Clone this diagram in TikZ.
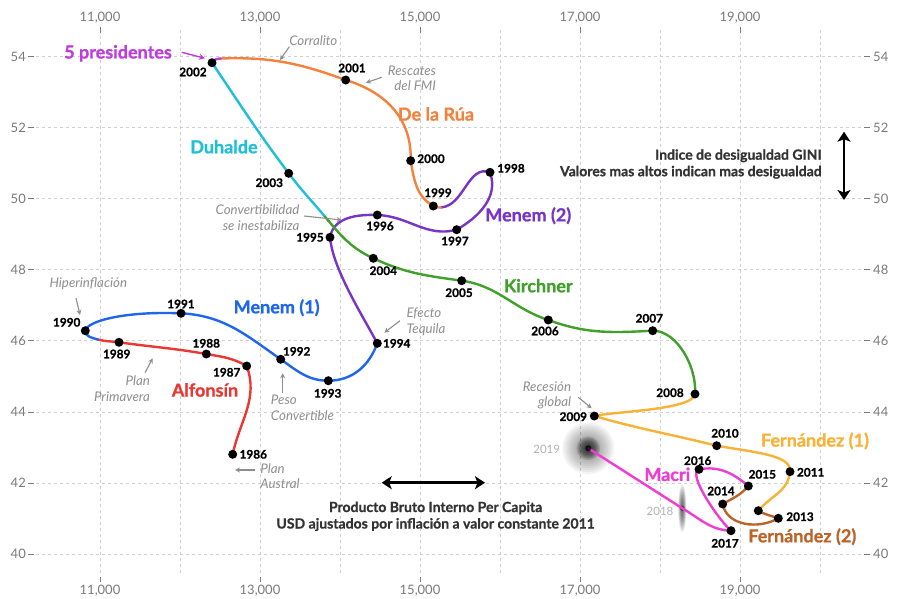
\documentclass[tikz,border=0pt]{standalone}
\usepackage{fontspec}
\setmainfont{Lato}[BoldFeatures={FakeBold=0.8}]
\usetikzlibrary{arrows.meta}
\definecolor{cAlf}{HTML}{EB3732}
\definecolor{cMenA}{HTML}{1F66EE}
\definecolor{cMenB}{HTML}{7634C8}
\definecolor{cRua}{HTML}{F5823C}
\definecolor{cFive}{HTML}{C03CDC}
\definecolor{cDuh}{HTML}{1EBFD8}
\definecolor{cKir}{HTML}{3FA02A}
\definecolor{cFerA}{HTML}{F8B236}
\definecolor{cFerB}{HTML}{BC6428}
\definecolor{cMac}{HTML}{F03CD2}
\definecolor{gridgray}{HTML}{CFCFCF}
\definecolor{axgray}{HTML}{7A7A7A}
\definecolor{annogray}{HTML}{8E8E8E}
\definecolor{capgray}{HTML}{333333}
\begin{document}
\begin{tikzpicture}[x=1pt,y=1pt,
  gridln/.style={draw=gridgray, line width=0.9pt, dash pattern=on 3pt off 3pt},
  tickln/.style={draw=axgray, line width=1pt},
  axlab/.style={font=\fontsize{13}{14}\selectfont, text=axgray, inner sep=0pt},
  yr/.style={font=\fontsize{11.8}{13}\selectfont\bfseries, text=black, inner sep=0pt},
  yrfaint/.style={font=\fontsize{11.5}{13}\selectfont, text=black!30, inner sep=0pt},
  pres/.style={font=\fontsize{18}{20}\selectfont\bfseries, inner sep=0pt},
  anno/.style={font=\fontsize{13.3}{15.5}\selectfont\itshape, text=annogray, inner sep=0pt},
  captxt/.style={font=\fontsize{14}{16.5}\selectfont\bfseries, text=capgray, inner sep=0pt},
  annarrow/.style={draw=annogray, line width=1.1pt, -{Stealth[length=5pt,width=5pt]}},
  bigarrow/.style={draw=black, line width=2.6pt, {Stealth[length=10pt,width=13pt,inset=2.5pt]}-{Stealth[length=10pt,width=13pt,inset=2.5pt]}},
  curve/.style={line width=2.4pt, line cap=round},
  dot/.style={circle, fill=black, inner sep=0pt, minimum size=9pt}
]
\useasboundingbox (0,0) rectangle (897,-598);
\fill[white] (0,0) rectangle (897,-598);

% grid
\foreach \x in {100,180,...,820} \draw[gridln] (\x,-30) -- (\x,-575);
\foreach \y in {56.5,127.6,198.7,269.8,340.9,412,483.1,554.2} \draw[gridln] (36,-\y) -- (864,-\y);

% x axis ticks and labels
\foreach \x/\t in {100/{11,000},260/{13,000},420/{15,000},580/{17,000},740/{19,000}}{
  \draw[tickln] (\x,-27) -- (\x,-33);
  \draw[tickln] (\x,-577) -- (\x,-582);
  \node[axlab] (xt\x) at (\x,-18) {\t};
  \node[axlab] (xb\x) at (\x,-591) {\t};
}
% y axis ticks and labels
\foreach \y/\v in {56.5/54,127.6/52,198.7/50,269.8/48,340.9/46,412/44,483.1/42,554.2/40}{
  \draw[tickln] (28,-\y) -- (34,-\y);
  \draw[tickln] (864,-\y) -- (870,-\y);
  \node[axlab, anchor=east] (yl\v) at (26,-\y) {\v};
  \node[axlab, anchor=west] (yr\v) at (873,-\y) {\v};
}

% data points
\coordinate (p1986) at (232.7,-454.3);
\coordinate (p1987) at (246.7,-366);
\coordinate (p1988) at (206.3,-354);
\coordinate (p1989) at (119,-342.3);
\coordinate (p1990) at (85.3,-330.7);
\coordinate (p1991) at (181,-313.3);
\coordinate (p1992) at (280.7,-359.3);
\coordinate (p1993) at (328.3,-380.7);
\coordinate (p1994) at (377.3,-343.3);
\coordinate (p1995) at (330,-237.3);
\coordinate (p1996) at (377.3,-215);
\coordinate (p1997) at (456.7,-229.7);
\coordinate (p1998) at (490,-172.3);
\coordinate (p1999) at (433.3,-206);
\coordinate (p2000) at (410.7,-160.7);
\coordinate (p2001) at (345.7,-80);
\coordinate (p2002) at (212,-62.7);
\coordinate (p2003) at (288.7,-173.3);
\coordinate (p2004) at (373.3,-258.3);
\coordinate (p2005) at (461.7,-280.7);
\coordinate (p2006) at (548.3,-320);
\coordinate (p2007) at (652.7,-330.7);
\coordinate (p2008) at (695,-394);
\coordinate (p2009) at (594.3,-416);
\coordinate (p2010) at (716.7,-445.7);
\coordinate (p2011) at (790,-471.7);
\coordinate (p2012) at (758.3,-510.7);
\coordinate (p2013) at (778.3,-518.3);
\coordinate (p2014) at (722.7,-504);
\coordinate (p2015) at (748.3,-486);
\coordinate (p2016) at (699,-469.3);
\coordinate (p2017) at (731,-530.7);
\coordinate (p2018) at (682.3,-508.3);
\coordinate (p2019) at (588.3,-448.3);
\coordinate (b1) at (98,-339.5);
\coordinate (b4) at (441,-207.5);
\coordinate (b5) at (221,-58.5);
\coordinate (b6) at (325,-216.7);

% blurred points
\foreach \r in {8,10,...,26} \fill[black,opacity=0.045] (p2019) circle (\r pt);
\foreach \r in {2,3,...,12} \fill[black,opacity=0.09] (p2019) circle (\r pt);
\foreach \r in {4,6,...,24} \fill[black,opacity=0.07] (p2018) ellipse [x radius={\r*0.17pt}, y radius={\r*1pt}];
\fill[black,opacity=0.5] (p2018) circle (2.5pt);

% curves
\draw[curve, cAlf] (p1986) to[out=78,in=-70] (p1987) to[out=150,in=-10] (p1988)
  to[out=170,in=-8] (p1989) to[out=172,in=-15] (b1);
\draw[curve, cMenA] (b1) to[out=165,in=-90] (p1990) .. controls (87,-321) and (125,-311) .. (p1991)
  to[out=-3,in=145] (p1992) to[out=-35,in=180] (p1993) to[out=0,in=-110] (p1994);
\draw[curve, cMenB] (p1994) to[out=118,in=-85,looseness=0.7] (p1995) to[out=80,in=178] (p1996)
  to[out=-2,in=-165] (p1997) to[out=30,in=-70] (p1998) to[out=160,in=5] (b4);
\draw[curve, cRua] (b4) to[out=185,in=-30] (p1999) to[out=150,in=-80] (p2000)
  .. controls (412,-118) and (385,-92) .. (p2001) to[out=160,in=2] (b5);
\draw[curve, cFive] (b5) to[out=182,in=60] (p2002);
\draw[curve, cDuh] (p2002) to[out=-56,in=127] (p2003) to[out=-53,in=130] (b6);
\draw[curve, cKir] (b6) to[out=-50,in=155] (p2004) to[out=-25,in=172] (p2005)
  to[out=-8,in=162] (p2006) to[out=-20,in=-177] (p2007) to[out=0,in=85,looseness=0.85] (p2008);
\draw[curve, cFerA] (p2008) to[out=-95,in=15,looseness=0.4] (p2009) to[out=-16,in=166] (p2010)
  .. controls (755,-452.5) and (792,-455) .. (p2011) to[out=-95,in=50] (p2012);
\draw[curve, cFerB] (p2012) to[out=-30,in=160] (p2013) to[out=-150,in=-80] (p2014)
  to[out=30,in=-130] (p2015);
\draw[curve, cMac] (p2015) to[out=140,in=10] (p2016) to[out=-160,in=140,looseness=0.5] (p2017)
  to[out=178,in=-30] (p2018) -- (p2019);
\fill[black,opacity=0.75] (p2019) circle (3pt);

% dots
\foreach \yy in {1986,1987,1988,1989,1990,1991,1992,1993,1994,1995,1996,1997,1998,1999,2000,2001,2002,2003,2004,2005,2006,2007,2008,2009,2010,2011,2012,2013,2014,2015,2016,2017}
  \node[dot] (d\yy) at (p\yy) {};

% year labels
\node[yr] (l1986) at (253.3,-454.3) {1986};
\node[yr] (l1987) at (226.7,-372.3) {1987};
\node[yr] (l1988) at (206.3,-343.3) {1988};
\node[yr] (l1989) at (116.7,-354) {1989};
\node[yr] (l1990) at (66.7,-322.3) {1990};
\node[yr] (l1991) at (181,-304) {1991};
\node[yr] (l1992) at (296.7,-351.3) {1992};
\node[yr] (l1993) at (327.7,-393.3) {1993};
\node[yr] (l1994) at (396.7,-343.3) {1994};
\node[yr] (l1995) at (310,-237.3) {1995};
\node[yr] (l1996) at (380,-226) {1996};
\node[yr] (l1997) at (455,-241) {1997};
\node[yr] (l1998) at (511,-168.3) {1998};
\node[yr] (l1999) at (438,-192.7) {1999};
\node[yr] (l2000) at (431,-158.7) {2000};
\node[yr] (l2001) at (352,-68) {2001};
\node[yr] (l2002) at (193,-72) {2002};
\node[yr] (l2003) at (269.3,-182.7) {2003};
\node[yr] (l2004) at (383.3,-270.7) {2004};
\node[yr] (l2005) at (459,-292.7) {2005};
\node[yr] (l2006) at (545,-331) {2006};
\node[yr] (l2007) at (649.3,-318.3) {2007};
\node[yr] (l2008) at (670,-392.7) {2008};
\node[yr] (l2009) at (573.3,-416.7) {2009};
\node[yr] (l2010) at (725,-433.3) {2010};
\node[yr] (l2011) at (810.7,-472.3) {2011};
\node[yr] (l2013) at (800,-516.7) {2013};
\node[yr] (l2014) at (721,-491) {2014};
\node[yr] (l2015) at (762.3,-474.3) {2015};
\node[yr] (l2016) at (697.7,-460.7) {2016};
\node[yr] (l2017) at (725,-543.3) {2017};
\node[yrfaint] (l2018) at (660,-511) {2018};
\node[yrfaint] (l2019) at (546.7,-449.3) {2019};

% president names
\node[pres, text=cFive] (nFive) at (118,-53.3) {5 presidentes};
\node[pres, text=cRua] (nRua) at (436,-114) {De la Rúa};
\node[pres, text=cDuh] (nDuh) at (224,-146.7) {Duhalde};
\node[pres, text=cMenB] (nMenB) at (528.3,-215.7) {Menem (2)};
\node[pres, text=cKir] (nKir) at (538.3,-285.7) {Kirchner};
\node[pres, text=cMenA] (nMenA) at (276.7,-307.7) {Menem (1)};
\node[pres, text=cAlf] (nAlf) at (205,-390) {Alfonsín};
\node[pres, text=cFerA] (nFerA) at (815,-441) {Fernández (1)};
\node[pres, text=cFerB] (nFerB) at (802.3,-536.7) {Fernández (2)};
\node[pres, text=cMac] (nMac) at (667.3,-474.3) {Macri};

\coordinate (aFive1) at (181.7,-52.3);
\coordinate (aFive2) at (205,-58.3);
\draw[draw=cFive, line width=1.4pt, -{Stealth[length=6pt,width=6pt]}] (aFive1) -- (aFive2);

% annotations
\node[anno] (tCorr) at (313.3,-40.7) {Corralito};
\coordinate (aCorr1) at (289.3,-46.7); \coordinate (aCorr2) at (280,-60);
\draw[annarrow] (aCorr1) -- (aCorr2);

\node[anno, align=right] (tFmi) at (412,-78.3) {Rescates\\del FMI};
\coordinate (aFmi1) at (381.7,-77.3); \coordinate (aFmi2) at (366,-82.7);
\draw[annarrow] (aFmi1) -- (aFmi2);

\node[anno, align=right] (tConv) at (257.5,-217.8) {Convertibilidad\\se inestabiliza};
\coordinate (aConv1) at (304,-216); \coordinate (aConv2) at (341.7,-220);
\draw[annarrow] (aConv1) -- (aConv2);

\node[anno] (tHip) at (88.3,-283.3) {Hiperinflación};
\coordinate (aHip1) at (76,-298); \coordinate (aHip2) at (80,-315);
\draw[annarrow] (aHip1) -- (aHip2);

\node[anno, align=left] (tTeq) at (426,-322) {Efecto\\Tequila};
\coordinate (aTeq1) at (400,-320.7); \coordinate (aTeq2) at (384.3,-332.7);
\draw[annarrow] (aTeq1) -- (aTeq2);

\node[anno, align=right] (tPri) at (122,-388.8) {Plan\\Primavera};
\coordinate (aPri1) at (145,-372.7); \coordinate (aPri2) at (152.7,-358.3);
\draw[annarrow] (aPri1) -- (aPri2);

\node[anno, align=left] (tPeso) at (302.5,-408) {Peso\\Convertible};
\coordinate (aPeso1) at (282.7,-393.3); \coordinate (aPeso2) at (282.7,-373.3);
\draw[annarrow] (aPeso1) -- (aPeso2);

\node[anno, align=left] (tAus) at (280,-476.2) {Plan\\Austral};
\coordinate (aAus1) at (255,-470); \coordinate (aAus2) at (235,-470);
\draw[annarrow] (aAus1) -- (aAus2);

\node[anno, align=right] (tRec) at (547,-395.5) {Recesión\\global};
\coordinate (aRec1) at (578.3,-397.3); \coordinate (aRec2) at (591.7,-408.3);
\draw[annarrow] (aRec1) -- (aRec2);

% captions and axis arrows
\node[captxt, align=right] (tGini) at (690.8,-164) {Indice de desigualdad GINI\\Valores mas altos indican mas desigualdad};
\coordinate (giniT) at (844,-131.7); \coordinate (giniB) at (844,-200);
\draw[bigarrow] (giniB) -- (giniT);

\node[captxt, align=center] (tPbi) at (435.6,-516.3) {Producto Bruto Interno Per Capita\\USD ajustados por inflación a valor constante 2011};
\coordinate (gdpL) at (381.7,-482.7); \coordinate (gdpR) at (485,-482.7);
\draw[bigarrow] (gdpL) -- (gdpR);
\end{tikzpicture}
\end{document}
